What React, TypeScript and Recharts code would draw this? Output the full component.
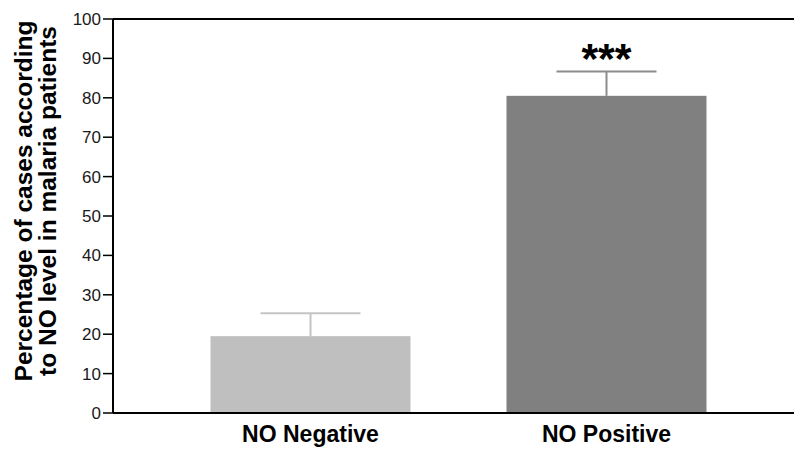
import { BarChart, Bar, XAxis, YAxis, ReferenceLine } from 'recharts'

const categories = ['NO Negative', 'NO Positive']
const percentages = [19.5, 80.5]
const errors = [5.8, 6.2]
const significance = ['', '***']
const yTicks = [0, 10, 20, 30, 40, 50, 60, 70, 80, 90, 100]

const BAR_COLORS = ['#bfbfbf', '#808080']
const ERR_COLORS = ['#c4c4c4', '#8c8c8c']
const FONT = '"Liberation Sans", Arial, Helvetica, sans-serif'

const data = categories.map((name, i) => ({
  name,
  pct: percentages[i],
  err: errors[i],
  sig: significance[i],
}))

const BarWithError = (props: any) => {
  const { x, y, width, height, payload, index } = props
  const pxPerUnit = height / payload.pct
  const errTop = y - payload.err * pxPerUnit
  const cx = x + width / 2
  const capHalf = width / 4
  return (
    <g>
      <rect x={x} y={y} width={width} height={height} fill={BAR_COLORS[index % BAR_COLORS.length]} />
      <line x1={cx} y1={y} x2={cx} y2={errTop} stroke={ERR_COLORS[index]} strokeWidth={2} />
      <line x1={cx - capHalf} y1={errTop} x2={cx + capHalf} y2={errTop} stroke={ERR_COLORS[index]} strokeWidth={2} />
      {payload.sig && (
        <text x={cx} y={errTop} dy={2} textAnchor="middle" fontFamily={FONT} fontWeight="bold" fontSize={43} fill="#000">
          {payload.sig}
        </text>
      )}
    </g>
  )
}

const YLabel = () => {
  const cy = 201
  return (
    <g>
      <text x={32} y={cy} transform={`rotate(-90, 32, ${cy})`} textAnchor="middle"
        fontFamily={FONT} fontWeight="bold" fontSize={24.5} fill="#000">
        Percentage of cases according
      </text>
      <text x={56} y={cy} transform={`rotate(-90, 56, ${cy})`} textAnchor="middle"
        fontFamily={FONT} fontWeight="bold" fontSize={24.5} fill="#000">
        to NO level in malaria patients
      </text>
    </g>
  )
}

export default function App() {
  return (
    <div style={{ position: 'fixed', left: 0, top: 0, width: 794, height: 449, overflow: 'hidden', background: '#fff' }}>
      <BarChart width={804} height={449} data={data} margin={{ top: 19, right: 0, bottom: 0, left: 0 }}>
        <XAxis
          dataKey="name"
          height={36}
          padding={{ left: 49.5, right: 49.5 }}
          axisLine={{ stroke: '#000', strokeWidth: 2 }}
          tickLine={false}
          tick={{ fill: '#000', fontFamily: FONT, fontWeight: 'bold', fontSize: 23 }}
          tickMargin={7}
        />
        <YAxis
          width={113}
          domain={[0, 100]}
          ticks={yTicks}
          interval={0}
          axisLine={{ stroke: '#000', strokeWidth: 2 }}
          tickLine={{ stroke: '#000', strokeWidth: 1.5 }}
          tickSize={10}
          tickMargin={2}
          tick={{ fill: '#1a1a1a', fontFamily: FONT, fontSize: 17 }}
          label={<YLabel />}
        />
        <ReferenceLine y={100} stroke="#000" strokeWidth={2} />
        <Bar dataKey="pct" barSize={200} shape={BarWithError} isAnimationActive={false} />
      </BarChart>
    </div>
  )
}
